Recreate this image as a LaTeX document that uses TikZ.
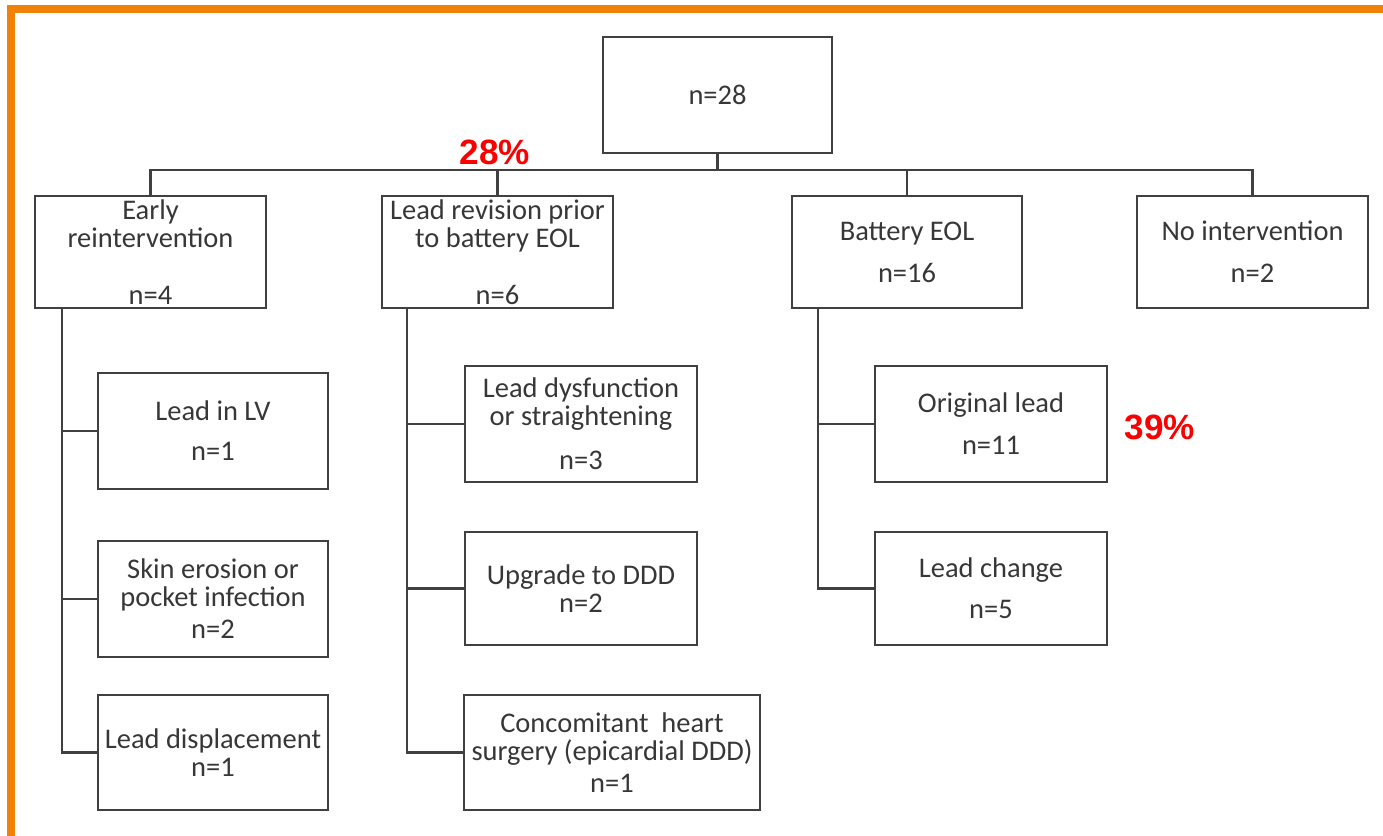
\documentclass[tikz,border=0pt]{standalone}
\usepackage{fontspec}
\setmainfont{Carlito}
\newfontfamily\pctfont{Liberation Sans}
\usepackage{tikz}
\usetikzlibrary{positioning, calc}
\definecolor{myframe}{RGB}{240,130,10}
\definecolor{myline}{RGB}{64,64,64}
\definecolor{mytext}{RGB}{55,55,55}
\definecolor{mypct}{RGB}{250,0,0}
\tikzset{
  box/.style={rectangle, draw=myline, line width=1.2pt, text=mytext,
    align=center, minimum width=4.6cm, minimum height=2.32cm,
    inner sep=0pt, font=\fontsize{16.2}{15.9}\selectfont},
  topbox/.style={box, minimum height=2.24cm},
  link/.style={line width=1.2pt, color=myline},
  pct/.style={text=mypct, font=\pctfont\fontsize{20}{22}\selectfont\bfseries}
}

\begin{document}
\begin{tikzpicture}
  \useasboundingbox (0,0) rectangle (27.66,-16.7);
  % --- frame ---
  \draw[myframe, line width=0.16cm] (0.22,-16.8) -- (0.22,-0.18) -- (27.8,-0.18);

  % --- top level ---
  \node[box, minimum width=4.58cm] (top) at (14.35,-1.9) {n=28};
  \node[topbox, minimum width=4.62cm] (early) at (3.01,-5.04) {Early\\reintervention\\[0.58cm]n=4};
  \node[topbox, minimum width=4.62cm] (revision) at (9.95,-5.04) {Lead revision prior\\to battery EOL\\[0.58cm]n=6};
  \node[topbox] (battery) at (18.14,-5.04) {Battery EOL\\[0.28cm]n=16};
  \node[topbox, minimum width=4.62cm] (nointerv) at (25.05,-5.04) {No intervention\\[0.28cm]n=2};

  \coordinate (bus) at (0,-3.4);
  \draw[link] (top.south) -- (top.south |- bus);
  \draw[link] (early.north) -- (early.north |- bus) -- (nointerv.north |- bus) -- (nointerv.north);
  \draw[link] (revision.north) -- (revision.north |- bus);
  \draw[link] (battery.north) -- (battery.north |- bus);

  % --- early reintervention ---
  \node[box] (lv) at (4.26,-8.62) {Lead in LV\\[0.24cm]n=1};
  \node[box] (skin) at (4.26,-11.98) {Skin erosion or\\pocket infection\\[0.08cm]n=2};
  \node[box, minimum height=2.3cm] (displ) at (4.26,-15.05) {Lead displacement\\n=1};

  \coordinate (trunkA) at (1.24,0);
  \draw[link] (early.south -| trunkA) -- (displ.west -| trunkA) -- (displ.west);
  \draw[link] (lv.west -| trunkA) -- (lv.west);
  \draw[link] (skin.west -| trunkA) -- (skin.west);

  % --- lead revision ---
  \node[box, minimum width=4.64cm] (dysf) at (11.62,-8.48) {Lead dysfunction\\or straightening\\[0.32cm]n=3};
  \node[box, minimum width=4.64cm, minimum height=2.26cm] (upgrade) at (11.62,-11.77) {Upgrade to DDD\\n=2};
  \node[box, minimum width=5.92cm, minimum height=2.3cm] (concom) at (12.24,-15.05) {Concomitant\ \ heart\\surgery (epicardial DDD)\\[0.08cm]n=1};

  \coordinate (trunkB) at (8.14,0);
  \draw[link] (revision.south -| trunkB) -- (concom.west -| trunkB) -- (concom.west);
  \draw[link] (dysf.west -| trunkB) -- (dysf.west);
  \draw[link] (upgrade.west -| trunkB) -- (upgrade.west);

  % --- battery EOL ---
  \node[box, minimum width=4.64cm] (orig) at (19.82,-8.48) {Original lead\\[0.28cm]n=11};
  \node[box, minimum width=4.64cm, minimum height=2.26cm] (change) at (19.82,-11.77) {Lead change\\[0.26cm]n=5};

  \coordinate (trunkC) at (16.36,0);
  \draw[link] (battery.south -| trunkC) -- (change.west -| trunkC) -- (change.west);
  \draw[link] (orig.west -| trunkC) -- (orig.west);

  % --- percentages ---
  \node[pct] (pctA) at (9.9,-3.04) {28\%};
  \node[pct] (pctB) at (23.2,-8.54) {39\%};
\end{tikzpicture}
\end{document}
